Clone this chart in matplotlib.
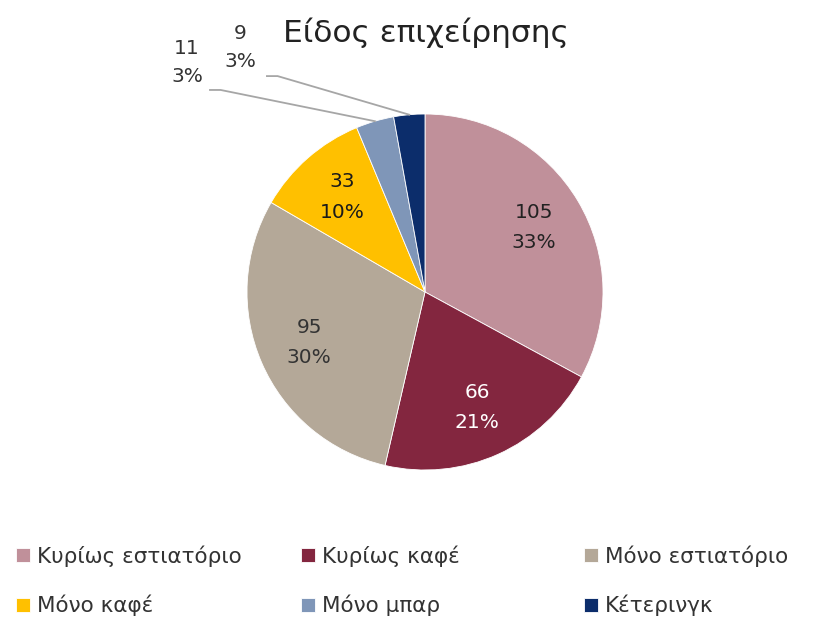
import numpy as np
import matplotlib.pyplot as plt

plt.rcParams['font.family'] = ['DejaVu Sans']

categories = ['Κυρίως εστιατόριο', 'Κυρίως καφέ', 'Μόνο εστιατόριο',
              'Μόνο καφέ', 'Μόνο μπαρ', 'Κέτερινγκ']
counts = [105, 66, 95, 33, 11, 9]
colors = ['#C0909A', '#83263F', '#B4A898', '#FFC000', '#7F96B8', '#0C2D6B']
text_colors = ['#222222', 'white', '#333333', '#1a1a1a', '#333333', '#333333']

W, H = 819, 620
fig = plt.figure(figsize=(W / 100, H / 100), dpi=100)

# pie axes: centre (425, 292) px, radius 178 px
cx, cy, r = 425, 292, 178
ax = fig.add_axes([(cx - r) / W, (H - cy - r) / H, 2 * r / W, 2 * r / H])

total = sum(counts)
wedges, _ = ax.pie(counts, colors=colors, startangle=90, counterclock=False,
                   radius=1.0, wedgeprops=dict(edgecolor='white', linewidth=0.6))
ax.set_xlim(-1, 1)
ax.set_ylim(-1, 1)
ax.set_aspect('equal')
ax.axis('off')

# labels: big slices inside, small ones outside with leader lines
# index: (text x, text y, line start x, line y)
outside = {4: (-1.337, 1.289, -1.208, 1.135), 5: (-1.04, 1.374, -0.888, 1.213)}
for i, w in enumerate(wedges):
    mid = np.deg2rad((w.theta1 + w.theta2) / 2)
    pct = round(100 * counts[i] / total)
    lab = f'{counts[i]}\n{pct}%'
    if i in outside:
        tx, ty, lx, ly = outside[i]
        ex, ey = np.cos(mid), np.sin(mid)
        ax.plot([lx, lx + 0.06, ex], [ly, ly, ey],
                color='#A6A6A6', lw=1.3, clip_on=False)
        ax.text(tx, ty, lab, ha='center', va='center', fontsize=14.5,
                color='#333333', linespacing=1.65)
    else:
        d = 0.71
        ax.text(d * np.cos(mid), d * np.sin(mid), lab, ha='center', va='center',
                fontsize=14.5, color=text_colors[i], linespacing=1.75)

fig.text(426 / W, 1 - 33 / H, 'Είδος επιχείρησης', ha='center', va='center',
         fontsize=22.5, color='#222222')

# legend in three columns
col_x = [-3 / W, 282 / W, 565 / W]
for c in range(3):
    idx = [c, c + 3]
    fig.legend([wedges[k] for k in idx], [categories[k] for k in idx],
               loc='upper left', bbox_to_anchor=(col_x[c], 1 - 526 / H),
               frameon=False, fontsize=15.5, handlelength=0.65, handleheight=0.65,
               handletextpad=0.3, labelspacing=1.3, labelcolor='#333333')

fig.savefig('out.png', dpi=100)
